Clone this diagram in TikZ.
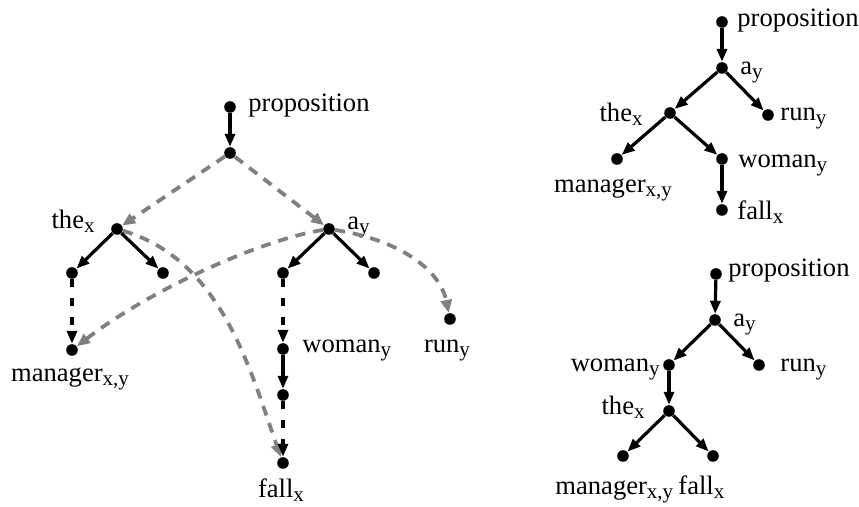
\documentclass[tikz,border=0pt]{standalone}
\usepackage{fontspec}
\setmainfont{Liberation Serif}
\usetikzlibrary{arrows.meta}
\newcommand{\sbs}[1]{\raisebox{-1.6pt}{\fontsize{10.5}{12}\selectfont #1}}
\begin{document}
\begin{tikzpicture}[x=0.5pt,y=-0.5pt,
  dot/.style={circle,fill=black,inner sep=0pt,minimum size=5.8pt},
  lbl/.style={inner sep=0pt,font=\fontsize{13.3}{16}\selectfont},
  solidarr/.style={line width=1.6pt,-{Triangle[length=6.5pt,width=5pt]}},
  dasharr/.style={line width=1.6pt,dash pattern=on 4pt off 5.5pt,-{Triangle[length=6.5pt,width=5pt]}},
  grayarr/.style={line width=1.9pt,draw=black!50,dash pattern=on 5pt off 4pt,-{Triangle[length=6.5pt,width=5.5pt,fill=black!50]}}]
\useasboundingbox (0,0) rectangle (859,507);
% ---------- left panel ----------
\node[dot] (LP) at (230,107) {};
\node[dot] (L1) at (230,153) {};
\node[dot] (LT) at (117,229) {};
\node[dot] (LA) at (329,229) {};
\node[dot] (LTl) at (72,273) {};
\node[dot] (LTr) at (163,273) {};
\node[dot] (LAl) at (283,273) {};
\node[dot] (LAr) at (374,273) {};
\node[dot] (LM) at (72,350) {};
\node[dot] (LW) at (283,349) {};
\node[dot] (LW2) at (283,395) {};
\node[dot] (LF) at (283,463) {};
\node[dot] (LR) at (450,319) {};
\node[lbl,anchor=base west] (lPl) at (248,112) {proposition};
\node[lbl,anchor=base east] (lTl) at (95,229) {the\sbs{x}};
\node[lbl,anchor=base west] (lAl) at (347,230) {a\sbs{y}};
\node[lbl,anchor=base] (lMl) at (70,382) {manager\sbs{x,y}};
\node[lbl,anchor=base west] (lWl) at (302,353) {woman\sbs{y}};
\node[lbl,anchor=base] (lRl) at (447,353) {run\sbs{y}};
\node[lbl,anchor=base] (lFl) at (281,498) {fall\sbs{x}};
\draw[grayarr] (L1) -- (LT);
\draw[grayarr] (L1) -- (LA);
\draw[grayarr] (LT) .. controls (222,260) and (250,370) .. (LF);
\draw[grayarr] (LA) .. controls (260,240) and (150,290) .. (LM);
\draw[grayarr] (LA) .. controls (400,240) and (440,270) .. (LR);
\draw[solidarr] (LP) -- (L1);
\draw[solidarr] (LT) -- (LTl);
\draw[solidarr] (LT) -- (LTr);
\draw[solidarr] (LA) -- (LAl);
\draw[solidarr] (LA) -- (LAr);
\draw[dasharr] (LTl) -- (LM);
\draw[dasharr] (LAl) -- (LW);
\draw[solidarr] (LW) -- (LW2);
\draw[dasharr] (LW2) -- (LF);
% ---------- top right ----------
\node[dot] (TP) at (722,22) {};
\node[dot] (TA) at (722,68) {};
\node[dot] (TT) at (670,113) {};
\node[dot] (TR) at (768,115) {};
\node[dot] (TM) at (617,159) {};
\node[dot] (TW) at (722,159) {};
\node[dot] (TF) at (722,210) {};
\node[lbl,anchor=base west] (tPl) at (737,27) {proposition};
\node[lbl,anchor=base west] (tAl) at (740,75) {a\sbs{y}};
\node[lbl,anchor=base east] (tTl) at (643,122) {the\sbs{x}};
\node[lbl,anchor=base west] (tRl) at (780,121) {run\sbs{y}};
\node[lbl,anchor=base west] (tWl) at (738,168) {woman\sbs{y}};
\node[lbl,anchor=base] (tMl) at (613,193) {manager\sbs{x,y}};
\node[lbl,anchor=base west] (tFl) at (737,220) {fall\sbs{x}};
\draw[solidarr] (TP) -- (TA);
\draw[solidarr] (TA) -- (TT);
\draw[solidarr] (TA) -- (TR);
\draw[solidarr] (TT) -- (TM);
\draw[solidarr] (TT) -- (TW);
\draw[solidarr] (TW) -- (TF);
% ---------- bottom right ----------
\node[dot] (BP) at (716,274) {};
\node[dot] (BA) at (715,320) {};
\node[dot] (BW) at (669,365) {};
\node[dot] (BR) at (759,365) {};
\node[dot] (BT) at (669,411) {};
\node[dot] (BM) at (623,456) {};
\node[dot] (BF) at (713,456) {};
\node[lbl,anchor=base west] (bPl) at (728,277) {proposition};
\node[lbl,anchor=base west] (bAl) at (733,327) {a\sbs{y}};
\node[lbl,anchor=base east] (bWl) at (660,372) {woman\sbs{y}};
\node[lbl,anchor=base west] (bRl) at (780,372) {run\sbs{y}};
\node[lbl,anchor=base east] (bTl) at (645,415) {the\sbs{x}};
\node[lbl,anchor=base west] (bMl) at (555,495) {manager\sbs{x,y}};
\node[lbl,anchor=base west] (bFl) at (678,495) {fall\sbs{x}};
\draw[solidarr] (BP) -- (BA);
\draw[solidarr] (BA) -- (BW);
\draw[solidarr] (BA) -- (BR);
\draw[solidarr] (BW) -- (BT);
\draw[solidarr] (BT) -- (BM);
\draw[solidarr] (BT) -- (BF);
\end{tikzpicture}
\end{document}
